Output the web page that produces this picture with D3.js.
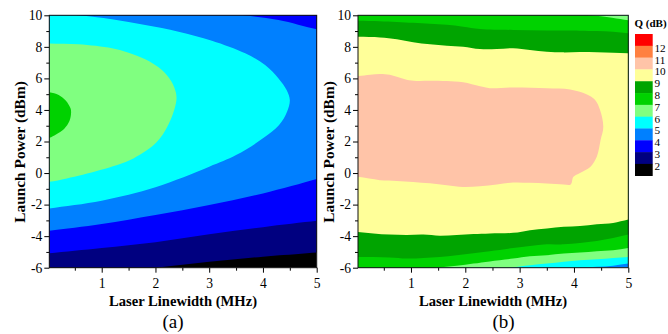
<!DOCTYPE html>
<html><head><meta charset="utf-8">
<script src="https://cdn.jsdelivr.net/npm/d3@7"></script>
<style>body{margin:0;background:#fff}svg{display:block}</style>
</head><body><svg id="c" width="668" height="334"></svg>
<script>
// ---------- data ----------
const legendTitle = "Q (dB)";
const legendLevels = [12, 11, 10, 9, 8, 7, 6, 5, 4, 3, 2];
// colour of the band [q, q+1], from q = 12 (top) down to q = 1 (bottom)
const bandQ = [12, 11, 10, 9, 8, 7, 6, 5, 4, 3, 2, 1];
const bandColors = ["#ff0000", "#ff8040", "#ffc4a8", "#ffff99", "#00a400", "#00d200",
                    "#80ff80", "#00ffff", "#0080ff", "#0000ff", "#000080", "#000000"];
const xTicks = [1, 2, 3, 4, 5];
const xMinorTicks = [0.5, 1.5, 2.5, 3.5, 4.5];
const yTicks = [-6, -4, -2, 0, 2, 4, 6, 8, 10];
const yMinorTicks = [-5, -3, -1, 1, 3, 5, 7, 9];
const xDomain = [0.025, 5];
const yDomain = [-6, 10];
const xTitle = "Laser Linewidth (MHz)";
const yTitle = "Launch Power (dBm)";
const panelNames = ["(a)", "(b)"];

// Panel (a): Q-level boundaries, points are [linewidth (MHz), launch power (dBm)]
const a_base = 1;
const a_q2 = [[-0.5,-7.1],[1.0,-6.42],[2.0,-6.0],[3,-5.62],[4,-5.3],[5,-5.03],[5.4,-4.92]];
const a_q3 = [[-0.5,-5.3],[0.025,-5.09],[1,-4.75],[2,-4.38],[3,-3.88],[4,-3.43],[5,-3.03],[5.4,-2.88]];
const a_q4_low = [[-0.5,-3.9],[0.025,-3.66],[1,-3.23],[2,-2.66],[3,-2.03],[4,-1.29],[5,-0.38],[5.4,0.05]];
const a_q4_high = [[5.4,8.85],[5,9.11],[4.29,9.7],[3.67,10.0],[3.2,10.25]];
const a_q5 = [[-0.5,-2.5],[0.025,-2.24],[1,-1.75],[2,-0.9],[3,0.4],[3.5,1.14],[4,2.2],[4.3,3.04],
              [4.45,3.9],[4.5,4.63],[4.44,5.26],[4.29,6.0],[4.04,6.85],[3.67,7.59],[3.05,8.39],
              [2.43,8.96],[1.81,9.38],[1.19,9.75],[0.57,10.0],[0.2,10.15]];
const a_q6 = [[-0.3,8.25],[0.025,8.22],[0.57,8.16],[1.19,7.91],[1.5,7.63],[1.81,7.21],[2.12,6.53],
              [2.3,5.79],[2.38,5.1],[2.39,4.63],[2.33,3.8],[2.22,2.94],[2.02,1.95],[1.59,0.93],
              [0.97,0.19],[0.35,-0.34],[0.025,-0.55],[-0.3,-0.65]];
const a_q7 = [[-0.2,5.15],[0.025,5.12],[0.2,4.95],[0.33,4.6],[0.42,4.1],[0.43,3.79],[0.4,3.3],
              [0.3,2.8],[0.15,2.45],[0.025,2.24],[-0.2,2.15]];

// Panel (b)
const b_base = 4;
const b_q5 = [[3.9,-6.1],[4.11,-6.0],[4.42,-5.94],[4.72,-5.87],[5,-5.74],[5.3,-5.65]];
const b_q6 = [[2.6,-6.1],[2.82,-6.0],[3.19,-5.84],[3.5,-5.74],[3.81,-5.63],[4.11,-5.52],[4.42,-5.46],
              [4.72,-5.38],[5,-5.32],[5.3,-5.26]];
const b_q7_low = [[1.2,-6.1],[1.47,-6.0],[1.84,-5.88],[2.15,-5.74],[2.45,-5.6],[2.88,-5.42],[3.19,-5.27],
                  [3.5,-5.21],[3.81,-5.1],[4.11,-5.04],[4.42,-4.96],[4.72,-4.89],[5,-4.75],[5.3,-4.65]];
const b_q7_high = [[5.3,9.55],[5,9.68],[4.7,9.85],[4.3,10.0],[4.0,10.1],[3.6,10.2]];
const b_q8_low = [[-0.3,-5.3],[0.025,-5.32],[0.31,-5.32],[0.61,-5.35],[0.92,-5.42],[1.23,-5.38],
                  [1.53,-5.32],[1.84,-5.21],[2.15,-5.08],[2.45,-4.95],[2.88,-4.75],[3.19,-4.62],
                  [3.5,-4.51],[3.81,-4.52],[4.11,-4.43],[4.42,-4.3],[4.72,-4.11],[5,-3.9],[5.3,-3.7]];
const b_q8_high = [[5.3,8.75],[5,8.86],[4.72,8.96],[4.42,9.0],[4.11,9.02],[3.5,9.03],[2.88,9.07],
                   [2.27,9.13],[1.96,9.28],[1.66,9.4],[1.35,9.47],[1.04,9.53],[0.43,9.63],
                   [0.025,9.66],[-0.3,9.68]];
const b_q9_low = [[-0.3,-3.65],[0.025,-3.73],[0.31,-3.83],[0.61,-3.9],[0.92,-3.92],[1.23,-3.9],
                  [1.53,-3.97],[1.84,-3.92],[2.15,-3.87],[2.45,-3.83],[2.88,-3.79],[3.19,-3.62],
                  [3.5,-3.52],[3.81,-3.41],[4.11,-3.35],[4.42,-3.24],[4.72,-3.16],[5,-2.94],[5.3,-2.75]];
const b_q9_high = [[5.3,7.55],[4.99,7.59],[4.72,7.63],[4.42,7.65],[4.11,7.67],[3.8,7.65],[3.5,7.69],
                   [3.19,7.8],[2.88,7.91],[2.58,7.86],[2.27,7.86],[1.96,8.01],[1.66,8.07],[1.35,8.16],
                   [1.04,8.29],[0.74,8.48],[0.43,8.6],[0.025,8.64],[-0.3,8.65]];
const b_q10 = [[-0.3,6.12],[0.025,6.15],[0.25,6.23],[0.43,6.28],[0.61,6.23],[0.74,6.1],[0.92,5.92],
               [1.1,5.84],[1.35,5.85],[1.66,5.83],[1.96,5.75],[2.27,5.5],[2.45,5.38],[2.88,5.43],
               [3.5,5.38],[3.93,5.3],[4.23,5.0],[4.39,4.63],[4.48,3.99],[4.54,2.93],[4.49,2.09],
               [4.42,1.03],[4.3,0.39],[4.11,0.01],[3.99,-0.24],[3.94,-0.72],[3.81,-0.72],[3.5,-0.66],
               [3.19,-0.62],[2.88,-0.6],[2.58,-0.72],[2.27,-0.83],[1.96,-0.88],[1.66,-0.77],
               [1.35,-0.65],[1.04,-0.56],[0.74,-0.5],[0.43,-0.45],[0.025,-0.24],[-0.3,-0.15]];

// superlevel regions (Q >= q); strings mean "continue outside the plot at that corner"
const panelA = {base: a_base, regions: [
  {q: 2, parts: [a_q2, "TR", "TL"]},
  {q: 3, parts: [a_q3, "TR", "TL"]},
  {q: 4, parts: [a_q4_low, a_q4_high, "TL"]},
  {q: 5, parts: [a_q5, "TL"]},
  {q: 6, parts: [a_q6]},
  {q: 7, parts: [a_q7]}
]};
const panelB = {base: b_base, regions: [
  {q: 5, parts: [b_q5, "TR", "TL", "BL"]},
  {q: 6, parts: [b_q6, "TR", "TL", "BL"]},
  {q: 7, parts: [b_q7_low, b_q7_high, "TL", "BL"]},
  {q: 8, parts: [b_q8_low, b_q8_high]},
  {q: 9, parts: [b_q9_low, b_q9_high]},
  {q: 10, parts: [b_q10]}
]};

// ---------- drawing ----------
const svg = d3.select("#c");
svg.append("rect").attr("width", 668).attr("height", 334).attr("fill", "#fff");
const serif = "'Liberation Serif','Times New Roman',serif";
const color = d3.scaleOrdinal(bandQ, bandColors);

const boxes = [
  {left: 49.3, right: 316.7, top: 15.3, bottom: 267.7, nameX: 173, data: panelA},
  {left: 358, right: 628.3, top: 15.3, bottom: 267.7, nameX: 503.5, data: panelB}
];

boxes.forEach((box, i) => {
  const x = d3.scaleLinear(xDomain, [box.left, box.right]);
  const y = d3.scaleLinear(yDomain, [box.bottom, box.top]);
  const g = svg.append("g");
  const clipId = "clip" + i;
  g.append("clipPath").attr("id", clipId).append("rect")
    .attr("x", box.left).attr("y", box.top)
    .attr("width", box.right - box.left).attr("height", box.bottom - box.top);
  const plot = g.append("g").attr("clip-path", `url(#${clipId})`);
  plot.append("rect").attr("x", box.left).attr("y", box.top)
    .attr("width", box.right - box.left).attr("height", box.bottom - box.top)
    .attr("fill", color(box.data.base));

  const line = d3.line().x(d => x(d[0])).y(d => y(d[1])).curve(d3.curveCatmullRom.alpha(0.5));
  const pathOf = parts => {
    let s = "";
    parts.forEach(p => {
      if (typeof p === "string") {
        const px = p[1] === "L" ? box.left - 40 : box.right + 40;
        const py = p[0] === "T" ? box.top - 40 : box.bottom + 40;
        s += (s ? "L" : "M") + px + "," + py;
      } else {
        let d = line(p);
        if (s) d = "L" + d.slice(1);
        s += d;
      }
    });
    return s + "Z";
  };
  plot.selectAll("path.lvl").data(box.data.regions).join("path")
    .attr("class", "lvl")
    .attr("d", r => pathOf(r.parts))
    .attr("fill", r => color(r.q));

  // axes
  const styleAxis = sel => {
    sel.select(".domain").remove();
    sel.selectAll("line").attr("stroke", "#000");
    sel.selectAll("text").attr("font-family", serif).attr("font-size", 13.6).attr("fill", "#000");
  };
  g.append("g").attr("transform", `translate(${box.left},0)`)
    .call(d3.axisLeft(y).tickValues(yTicks).tickSize(5).tickPadding(2).tickFormat(d => String(d)))
    .call(styleAxis);
  g.append("g").attr("transform", `translate(${box.left},0)`)
    .call(d3.axisLeft(y).tickValues(yMinorTicks).tickSize(3).tickFormat(""))
    .call(styleAxis);
  g.append("g").attr("transform", `translate(0,${box.bottom})`)
    .call(d3.axisBottom(x).tickValues(xTicks).tickSize(5).tickPadding(6).tickFormat(d => String(d)))
    .call(styleAxis);
  g.append("g").attr("transform", `translate(0,${box.bottom})`)
    .call(d3.axisBottom(x).tickValues(xMinorTicks).tickSize(3).tickFormat(""))
    .call(styleAxis);

  g.append("rect").attr("x", box.left).attr("y", box.top)
    .attr("width", box.right - box.left).attr("height", box.bottom - box.top)
    .attr("fill", "none").attr("stroke", "#111").attr("stroke-width", 1);

  g.append("text").attr("x", (box.left + box.right) / 2).attr("y", 305.5)
    .attr("text-anchor", "middle").attr("font-family", serif).attr("font-weight", "bold")
    .attr("font-size", 14.6).text(xTitle);
  g.append("text").attr("transform", `translate(${box.left - 24.5},152) rotate(-90)`)
    .attr("text-anchor", "middle").attr("font-family", serif).attr("font-weight", "bold")
    .attr("font-size", 15.4).text(yTitle);
  g.append("text").attr("x", box.nameX).attr("y", 328)
    .attr("text-anchor", "middle").attr("font-family", serif)
    .attr("font-size", 19).text(panelNames[i]);
});

// legend
const lg = svg.append("g");
const ly = d3.scaleLinear([1, 13], [175.7, 34]);
lg.append("text").attr("x", 634.5).attr("y", 26.5).attr("font-family", serif)
  .attr("font-weight", "bold").attr("font-size", 11).text(legendTitle);
lg.selectAll("rect.sw").data(bandQ).join("rect").attr("class", "sw")
  .attr("x", 635).attr("width", 17.7)
  .attr("y", q => ly(q + 1)).attr("height", q => ly(q) - ly(q + 1) + 0.3)
  .attr("fill", q => color(q));
lg.selectAll("text.lb").data(legendLevels).join("text").attr("class", "lb")
  .attr("x", 654.5).attr("y", q => ly(q) + 6)
  .attr("font-family", serif).attr("font-size", 11.2).text(q => String(q));
</script></body></html>
